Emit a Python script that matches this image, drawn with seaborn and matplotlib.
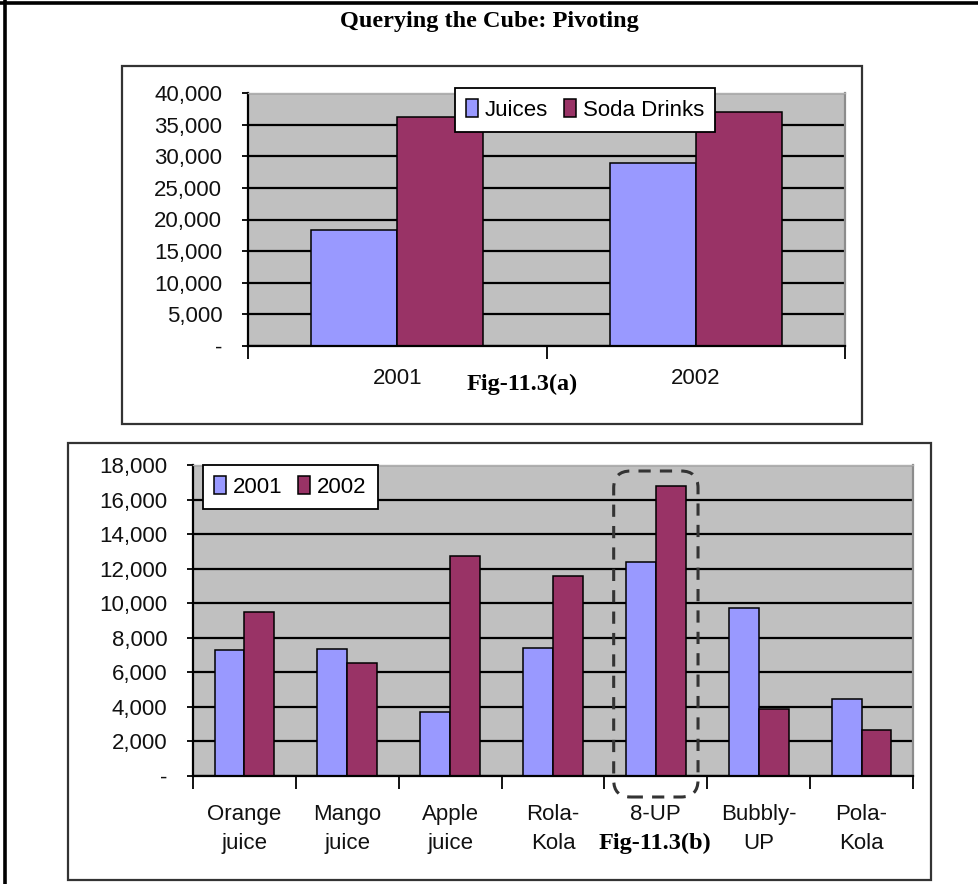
import matplotlib
matplotlib.use("Agg")
import matplotlib.pyplot as plt
import pandas as pd
import seaborn as sns
from matplotlib.patches import Rectangle, FancyBboxPatch
from matplotlib.lines import Line2D
from matplotlib.transforms import IdentityTransform

# ---------------- data ----------------
title = "Querying the Cube: Pivoting"

years_a = ["2001", "2002"]
series_a = ["Juices", "Soda Drinks"]
juices = [18300, 28900]
soda_drinks = [36200, 37000]
yticks_a = [0, 5000, 10000, 15000, 20000, 25000, 30000, 35000, 40000]
ytick_labels_a = ["-", "5,000", "10,000", "15,000", "20,000", "25,000", "30,000", "35,000", "40,000"]

products = ["Orange\njuice", "Mango\njuice", "Apple\njuice", "Rola-\nKola", "8-UP", "Bubbly-\nUP", "Pola-\nKola"]
series_b = ["2001", "2002"]
sales_2001 = [7300, 7350, 3700, 7400, 12400, 9750, 4450]
sales_2002 = [9500, 6550, 12750, 11600, 16800, 3900, 2650]
yticks_b = [0, 2000, 4000, 6000, 8000, 10000, 12000, 14000, 16000, 18000]
ytick_labels_b = ["-", "2,000", "4,000", "6,000", "8,000", "10,000", "12,000", "14,000", "16,000", "18,000"]
highlight = "8-UP"

caption_a = "Fig-11.3(a)"
caption_b = "Fig-11.3(b)"

colors = ["#9999FF", "#993366"]

# ---------------- tables ----------------
df_a = pd.DataFrame({
    "year": years_a * 2,
    "value": juices + soda_drinks,
    "series": [series_a[0]] * len(years_a) + [series_a[1]] * len(years_a),
})
df_b = pd.DataFrame({
    "product": products * 2,
    "value": sales_2001 + sales_2002,
    "series": [series_b[0]] * len(products) + [series_b[1]] * len(products),
})

W, H, DPI = 979, 884, 100
fig = plt.figure(figsize=(W / DPI, H / DPI), dpi=DPI)
fig.patch.set_facecolor("white")

sans = ["Liberation Sans", "DejaVu Sans"]
serif = ["Liberation Serif", "DejaVu Serif"]
TICK_FS = 16
CAP_FS = 17.5


def fx(px):
    return px / W


def fy(py):
    return 1 - py / H


def style_axes(ax, yticks, ylabels, ylim, ncat, xpad):
    ax.set_facecolor("#C0C0C0")
    ax.set_ylim(*ylim)
    ax.set_xlim(-0.5, ncat - 0.5)
    ax.set_yticks(yticks)
    ax.set_yticklabels(ylabels, fontfamily=sans, fontsize=TICK_FS, color="#111111")
    ax.yaxis.grid(True, color="black", linewidth=1.6)
    ax.xaxis.grid(False)
    ax.set_axisbelow(True)
    ax.tick_params(axis="y", direction="out", length=4.5, width=1.3, color="black", pad=14)
    ax.tick_params(axis="x", which="major", length=0, pad=xpad)
    ax.set_xticks([i - 0.5 for i in range(ncat + 1)], minor=True)
    ax.tick_params(axis="x", which="minor", direction="out", length=9, width=1.3, color="black")
    for lab in ax.get_xticklabels():
        lab.set_fontfamily(sans)
        lab.set_fontsize(TICK_FS)
        lab.set_linespacing(1.5)
        lab.set_color("#111111")
    for s in ["left", "bottom"]:
        ax.spines[s].set_color("black")
        ax.spines[s].set_linewidth(1.6)
    ax.spines["right"].set_color("#8c8c8c")
    ax.spines["right"].set_linewidth(1.6)
    ax.spines["top"].set_color("#b0b0b0")
    ax.spines["top"].set_linewidth(1.0)
    ax.set_xlabel("")
    ax.set_ylabel("")


def make_legend(ax, anchor):
    handles, labels = ax.get_legend_handles_labels()
    if ax.get_legend() is not None:
        ax.get_legend().remove()
    leg = ax.legend(handles, labels, ncol=2, loc="upper left",
                    bbox_to_anchor=anchor, bbox_transform=fig.transFigure,
                    borderaxespad=0, frameon=True, fancybox=False,
                    handlelength=0.55, handleheight=0.85, handletextpad=0.3,
                    columnspacing=0.7, borderpad=0.5,
                    prop={"family": sans, "size": TICK_FS})
    leg.get_frame().set_edgecolor("black")
    leg.get_frame().set_linewidth(1.3)
    leg.get_frame().set_facecolor("white")
    leg.get_frame().set_alpha(1)
    leg.set_zorder(10)
    return leg


# ---------------- top chart ----------------
ax1 = fig.add_axes([fx(248), fy(346), fx(845) - fx(248), fy(93) - fy(346)])
sns.barplot(data=df_a, x="year", y="value", hue="series", palette=colors,
            width=0.575, saturation=1, edgecolor="black", linewidth=1.1, ax=ax1)
style_axes(ax1, yticks_a, ytick_labels_a, (0, 40000), len(years_a), xpad=16)
make_legend(ax1, (fx(455), fy(88)))

# ---------------- bottom chart ----------------
ax2 = fig.add_axes([fx(193), fy(776), fx(913) - fx(193), fy(465) - fy(776)])
sns.barplot(data=df_b, x="product", y="value", hue="series", palette=colors,
            width=0.58, saturation=1, edgecolor="black", linewidth=1.1, ax=ax2)
style_axes(ax2, yticks_b, ytick_labels_b, (0, 18000), len(products), xpad=20)
make_legend(ax2, (fx(203), fy(465)))

# ---------------- frames & text ----------------
fig.add_artist(Rectangle((fx(122), fy(424)), fx(862) - fx(122), fy(66) - fy(424),
                         transform=fig.transFigure, fill=False, edgecolor="#333333", linewidth=1.6))
fig.add_artist(Rectangle((fx(68), fy(880)), fx(931) - fx(68), fy(443) - fy(880),
                         transform=fig.transFigure, fill=False, edgecolor="#333333", linewidth=1.6))
fig.add_artist(Line2D([0, 1], [fy(2.5), fy(2.5)], transform=fig.transFigure, color="black", linewidth=2.6))
fig.add_artist(Line2D([fx(5), fx(5)], [0, 1], transform=fig.transFigure, color="black", linewidth=2.6))

fig.text(0.5, fy(22), title, ha="center", va="center", fontfamily=serif,
         fontweight="bold", fontsize=CAP_FS, color="black")
fig.text(fx(522), fy(384), caption_a, ha="center", va="center", fontfamily=serif,
         fontweight="bold", fontsize=CAP_FS, color="black")
fig.text(fx(655), fy(843), caption_b, ha="center", va="center", fontfamily=serif,
         fontweight="bold", fontsize=CAP_FS, color="black")

# dashed highlight around the selected product
fig.canvas.draw()
idx = products.index(highlight)
xl = ax2.transData.transform((idx - 0.41, 0))[0]
xr = ax2.transData.transform((idx + 0.41, 0))[0]
y_top = (H - 471)
y_bot = (H - 797)
fig.add_artist(FancyBboxPatch((xl, y_bot), xr - xl, y_top - y_bot,
                              boxstyle="round,pad=0,rounding_size=17",
                              transform=IdentityTransform(), fill=False,
                              edgecolor="#333333", linewidth=2.2,
                              linestyle=(0, (4, 3)), zorder=20))

fig.savefig("out.png", dpi=DPI, facecolor="white")
